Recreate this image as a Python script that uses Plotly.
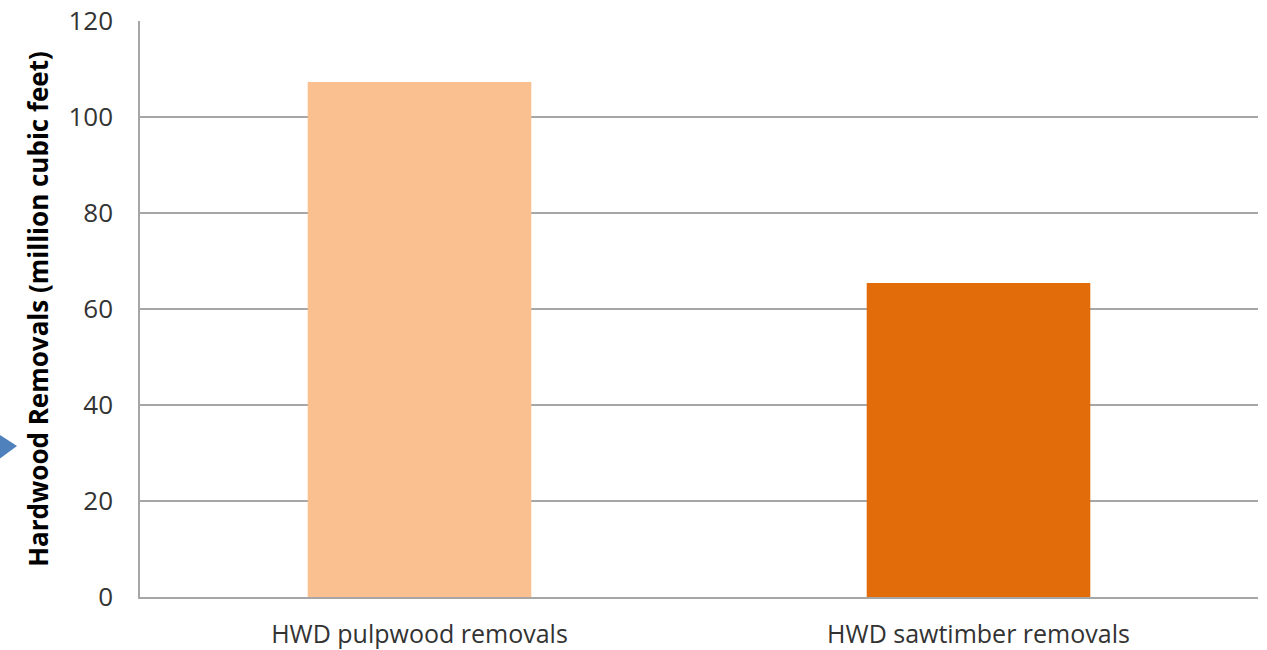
import plotly.graph_objects as go

categories = ["HWD pulpwood removals", "HWD sawtimber removals"]
values = [107.3, 65.4]
bar_colors = ["#FAC090", "#E36C0A"]
y_ticks = [0, 20, 40, 60, 80, 100, 120]
y_title = "Hardwood Removals (million cubic feet)"

fig = go.Figure(go.Bar(
    x=categories, y=values, marker=dict(color=bar_colors, line=dict(width=0)),
    width=0.4,
))

W, H = 1267, 650
L, R, T, B = 140, 9, 21, 53
pw, ph = W - L - R, H - T - B

def px2paper(x, y):
    return (x - L) / pw, (H - B - y) / ph

pts = [px2paper(-6, 431), px2paper(17, 446), px2paper(-6, 463)]
path = "M {} {} L {} {} L {} {} Z".format(*[c for p in pts for c in p])

fig.update_layout(
    width=W, height=H,
    margin=dict(l=L, r=R, t=T, b=B, autoexpand=False),
    plot_bgcolor="white", paper_bgcolor="white",
    font=dict(family="Open Sans", color="#333333", size=26),
    showlegend=False,
    shapes=[dict(type="path", xref="paper", yref="paper", path=path,
                 fillcolor="#4F81BD", line=dict(width=0), layer="above")],
    xaxis=dict(
        showline=True, linecolor="#A6A6A6", linewidth=1.5,
        ticks="", ticklabelstandoff=14, tickfont=dict(size=25),
        automargin=False, fixedrange=True,
    ),
    yaxis=dict(
        range=[0, 120], tickvals=y_ticks, showgrid=True,
        gridcolor="#A6A6A6", gridwidth=1.5,
        showline=True, linecolor="#A6A6A6", linewidth=1.5,
        ticks="", ticklabelstandoff=20, tickfont=dict(size=26),
        zeroline=False, automargin=False,
        title=dict(text="<b>" + y_title + "</b>", font=dict(size=26, color="#000000"), standoff=12),
    ),
)

fig.write_html(
    "out.html",
    config={"displayModeBar": False},
    post_script="document.body.style.margin='0';document.body.style.overflow='hidden';",
)
